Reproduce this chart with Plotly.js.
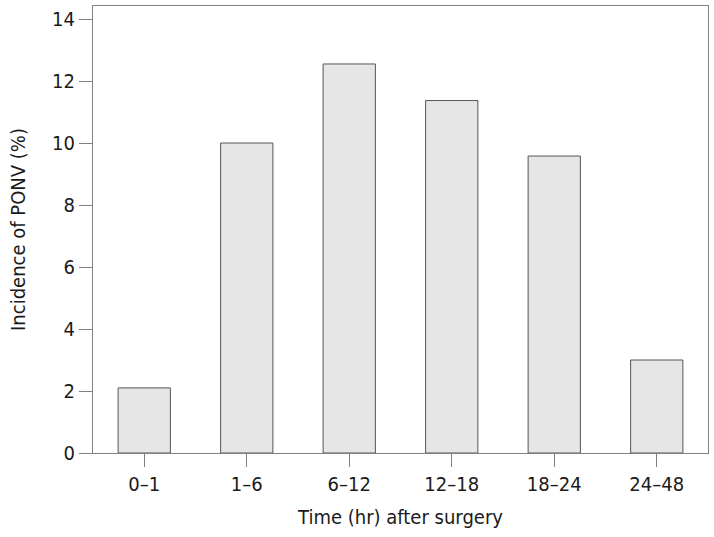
<!DOCTYPE html>
<html>
<head>
<meta charset="utf-8">
<script src="https://cdn.plot.ly/plotly-3.0.1.min.js"></script>
<style>html,body{margin:0;padding:0;background:#fff;}#chart{width:714px;height:537px;}</style>
</head>
<body>
<div id="chart"></div>
<script>
const categories = ["0–1", "1–6", "6–12", "12–18", "18–24", "24–48"];
const incidence = [2.1, 10.0, 12.55, 11.37, 9.58, 3.0];
const yTicks = [0, 2, 4, 6, 8, 10, 12, 14];

const FONT = "'DejaVu Sans Condensed', 'Liberation Sans Narrow', 'Roboto', sans-serif";

Plotly.newPlot('chart', [{
  type: 'bar',
  x: categories,
  y: incidence,
  marker: {color: '#e6e6e6', line: {color: '#555555', width: 1}},
  hoverinfo: 'none'
}], {
  width: 714, height: 537,
  margin: {l: 93, r: 6, t: 6, b: 84},
  paper_bgcolor: '#ffffff', plot_bgcolor: '#ffffff',
  bargap: 0.49,
  showlegend: false,
  font: {family: FONT, size: 20, color: '#1a1a1a'},
  xaxis: {
    type: 'category',
    range: [-0.5, 5.5],
    showline: true, mirror: true, linecolor: '#808080', linewidth: 1,
    ticks: 'outside', ticklen: 13, tickcolor: '#808080', tickwidth: 1,
    showgrid: false, zeroline: false,
    tickfont: {family: FONT, size: 20, color: '#1a1a1a'},
    title: {text: 'Time (hr) after surgery', font: {family: FONT, size: 20, color: '#1a1a1a'}, standoff: 14}
  },
  yaxis: {
    range: [0, 14.42],
    tickvals: yTicks,
    showline: true, mirror: true, linecolor: '#808080', linewidth: 1,
    ticks: 'outside', ticklen: 13, tickcolor: '#808080', tickwidth: 1,
    showgrid: false, zeroline: false,
    tickfont: {family: FONT, size: 20, color: '#1a1a1a'},
    title: {text: 'Incidence of PONV (%)', font: {family: FONT, size: 20, color: '#1a1a1a'}, standoff: 21}
  }
}, {staticPlot: true});
</script>
</body>
</html>
